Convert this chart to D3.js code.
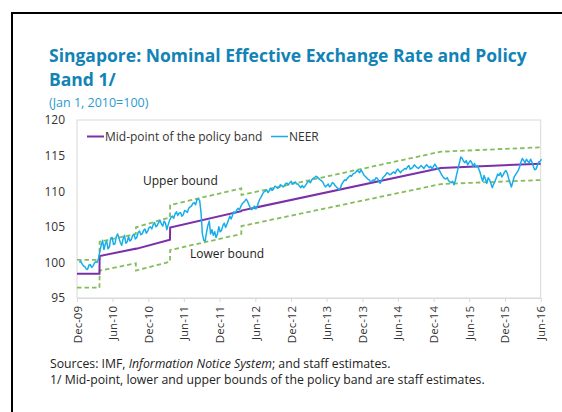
<!DOCTYPE html>
<html>
<head>
<meta charset="utf-8">
<script src="https://cdn.jsdelivr.net/npm/d3@7"></script>
<style>
body { margin: 0; background: #fff; }
svg text { font-family: "Open Sans", "Noto Sans", sans-serif; }
</style>
</head>
<body>
<div id="chart"></div>
<script>
// y axis ticks and x axis labels
const yTicks = [95, 100, 105, 110, 115, 120];
const xTickLabels = ["Dec-09", "Jun-10", "Dec-10", "Jun-11", "Dec-11", "Jun-12", "Dec-12",
    "Jun-13", "Dec-13", "Jun-14", "Dec-14", "Jun-15", "Dec-15", "Jun-16"];
const xTickDates = ["2009-12-01", "2010-06-01", "2010-12-01", "2011-06-01", "2011-12-01", "2012-06-01", "2012-12-01",
    "2013-06-01", "2013-12-01", "2014-06-01", "2014-12-01", "2015-06-01", "2015-12-01", "2016-06-01"];

// policy band breakpoints
const bandDates = ["2009-12-01", "2010-03-26", "2010-03-27", "2010-09-28", "2010-09-29", "2011-03-22",
    "2011-03-23", "2012-03-21", "2012-03-22", "2015-01-07", "2016-06-01"];
const upperBound = [100.35, 100.35, 102.9, 104.0, 104.93, 106.33, 108.06, 110.4, 109.47, 115.55, 116.16];
const lowerBound = [96.45, 96.45, 98.85, 99.87, 98.85, 100.1, 101.74, 103.99, 105.1, 111.0, 111.57];
const midPoint = [98.4, 98.4, 100.9, 101.93, 101.89, 103.2, 104.9, 107.2, 107.28, 113.27, 113.87];

// NEER, one reading a week from the start date
const neerStart = "2009-12-13";
const neerStepDays = 7;
const neer = [
    100.0, 100.2, 99.8, 99.5, 99.4, 99.1, 99.0, 99.6, 99.7, 99.3,
    99.5, 99.9, 100.1, 100.0, 100.5, 101.6, 102.4, 103.1, 101.8, 102.6,
    103.0, 101.9, 102.2, 103.4, 103.5, 102.5, 102.6, 103.6, 104.0, 103.4,
    102.8, 102.4, 103.3, 103.8, 102.7, 102.9, 103.6, 103.0, 103.2, 103.8,
    103.9, 103.3, 103.5, 104.2, 104.4, 103.9, 104.0, 104.5, 104.7, 104.1,
    104.4, 104.9, 105.0, 104.7, 105.3, 105.6, 105.0, 105.2, 105.6, 105.9,
    105.4, 105.1, 105.8, 105.5, 104.6, 105.3, 105.9, 106.3, 106.5, 106.2,
    106.8, 107.1, 106.6, 106.9, 107.0, 106.5, 106.7, 107.3, 107.2, 107.0,
    107.6, 107.8, 107.9, 108.3, 108.4, 108.1, 108.8, 108.9, 108.7, 107.0,
    104.0, 103.1, 103.0, 104.2, 105.2, 105.8, 104.0, 104.6, 103.8, 104.3,
    103.5, 104.0, 105.0, 104.3, 104.5, 105.2, 105.5, 104.9, 105.4, 105.9,
    106.5, 106.1, 106.6, 107.1, 106.9, 107.3, 107.6, 107.4, 107.8, 108.2,
    108.4, 108.6, 108.9, 108.6, 108.1, 107.7, 107.4, 107.6, 107.9, 107.5,
    107.8, 108.4, 108.9, 109.2, 109.6, 109.9, 110.0, 110.2, 109.8, 110.1,
    110.4, 110.1, 110.3, 110.7, 110.6, 110.4, 110.5, 110.9, 110.8, 110.6,
    110.8, 111.1, 111.1, 110.9, 111.2, 111.4, 111.0, 111.2, 111.3, 111.0,
    111.0, 110.7, 110.5, 110.8, 110.5, 110.7, 111.0, 111.3, 111.4, 111.2,
    111.6, 111.8, 111.9, 112.1, 112.0, 111.8, 111.6, 111.5, 111.3, 110.9,
    110.6, 110.8, 111.0, 110.6, 110.8, 111.2, 111.1, 110.8, 110.6, 110.4,
    110.2, 110.5, 111.0, 111.3, 111.6, 111.5, 111.8, 112.0, 112.2, 112.1,
    112.4, 112.5, 112.6, 112.9, 112.8, 112.6, 113.0, 112.7, 112.3, 112.1,
    111.9, 111.7, 111.6, 111.3, 111.4, 111.6, 111.5, 111.9, 111.8, 111.4,
    111.1, 111.5, 111.9, 112.1, 112.3, 112.6, 112.5, 112.3, 112.4, 112.6,
    112.7, 112.5, 112.9, 113.1, 112.8, 112.6, 112.9, 113.0, 113.2, 113.1,
    113.4, 113.6, 113.1, 113.2, 113.4, 113.7, 113.5, 113.3, 113.2, 113.4,
    113.6, 113.4, 113.2, 113.5, 113.7, 113.5, 113.3, 113.5, 113.1, 113.5,
    113.8, 113.5, 113.1, 113.0, 112.7, 112.3, 112.0, 111.8, 111.7, 111.9,
    111.5, 111.3, 111.2, 111.4, 110.9, 111.5, 112.4, 113.2, 114.0, 114.8,
    114.6, 114.2, 114.0, 114.3, 113.7, 114.0, 114.3, 114.0, 113.5, 113.9,
    113.4, 113.6, 113.2, 112.7, 112.0, 111.4, 112.2, 111.7, 111.1, 111.9,
    111.6, 111.1, 110.5, 111.0, 111.4, 111.9, 112.4, 112.2, 112.6, 112.0,
    112.3, 112.7, 112.9, 112.5, 111.8, 111.2, 110.6, 111.3, 112.0, 112.3,
    112.6, 112.9, 113.4, 114.1, 114.6, 114.3, 114.0, 114.5, 114.2, 114.0,
    114.5, 114.1, 113.5, 113.0, 113.1, 113.6, 114.1, 114.2, 114.5
];

const parse = d3.timeParse("%Y-%m-%d");
const W = 562, H = 412;
const plot = {left: 77, right: 540.7, top: 120, bottom: 298};

const svg = d3.select("#chart")
    .append("svg")
    .attr("width", W)
    .attr("height", H);

// outer black frame (runs off the right and bottom edges)
svg.append("rect")
    .attr("x", 12).attr("y", 13)
    .attr("width", 600).attr("height", 450)
    .attr("fill", "none")
    .attr("stroke", "#000")
    .attr("stroke-width", 2);

// titles
svg.append("text")
    .attr("x", 49).attr("y", 62)
    .attr("fill", "#1283B5")
    .style("font-size", "17.5px")
    .style("font-weight", "bold")
    .text("Singapore: Nominal Effective Exchange Rate and Policy");
svg.append("text")
    .attr("x", 49).attr("y", 86)
    .attr("fill", "#1283B5")
    .style("font-size", "17.5px")
    .style("font-weight", "bold")
    .text("Band 1/");
svg.append("text")
    .attr("x", 49).attr("y", 106.5)
    .attr("fill", "#2A9AD0")
    .style("font-size", "12.5px")
    .text("(Jan 1, 2010=100)");

const x = d3.scaleTime()
    .domain([parse("2009-12-01"), parse("2016-06-01")])
    .range([plot.left, plot.right]);

const y = d3.scaleLinear()
    .domain([95, 120])
    .range([plot.bottom, plot.top]);

// plot area frame
svg.append("rect")
    .attr("x", plot.left).attr("y", plot.top)
    .attr("width", plot.right - plot.left)
    .attr("height", plot.bottom - plot.top)
    .attr("fill", "none")
    .attr("stroke", "#D9D9D9")
    .attr("stroke-width", 1);

// y axis labels
const yAxis = svg.append("g")
    .attr("transform", `translate(${plot.left},0)`)
    .call(d3.axisLeft(y).tickValues(yTicks).tickSize(0).tickPadding(12));
yAxis.select(".domain").remove();
yAxis.selectAll("text")
    .attr("fill", "#333")
    .style("font-size", "12px")
    .style("font-family", "\"Open Sans\", sans-serif");

// x axis
const xAxis = svg.append("g")
    .attr("transform", `translate(0,${plot.bottom})`)
    .call(d3.axisBottom(x)
        .tickValues(xTickDates.map(parse))
        .tickFormat((d, i) => xTickLabels[i])
        .tickSize(4)
        .tickSizeOuter(0));
xAxis.select(".domain").attr("stroke", "#D9D9D9");
xAxis.selectAll(".tick line").attr("stroke", "#D9D9D9");
xAxis.selectAll("text")
    .attr("fill", "#333")
    .style("font-size", "11.5px")
    .style("font-family", "\"Open Sans\", sans-serif")
    .attr("text-anchor", "end")
    .attr("transform", "rotate(-90)")
    .attr("x", -8)
    .attr("y", 0)
    .attr("dy", "0.35em");

const bandPts = bandDates.map((d, i) => ({
    date: parse(d), upper: upperBound[i], lower: lowerBound[i], mid: midPoint[i]
}));

const neerPts = neer.map((v, i) => ({
    date: d3.timeDay.offset(parse(neerStart), i * neerStepDays), value: v
}));

const bandLine = key => d3.line()
    .x(d => x(d.date))
    .y(d => y(d[key]));

["upper", "lower"].forEach(key => {
    svg.append("path")
        .datum(bandPts)
        .attr("fill", "none")
        .attr("stroke", "#86BC5A")
        .attr("stroke-width", 1.8)
        .attr("stroke-dasharray", "4.5,3")
        .attr("d", bandLine(key));
});

svg.append("path")
    .datum(bandPts)
    .attr("fill", "none")
    .attr("stroke", "#7B2FA8")
    .attr("stroke-width", 2)
    .attr("d", bandLine("mid"));

svg.append("path")
    .datum(neerPts)
    .attr("fill", "none")
    .attr("stroke", "#16AEEA")
    .attr("stroke-width", 1.5)
    .attr("stroke-linejoin", "round")
    .attr("d", d3.line().x(d => x(d.date)).y(d => y(d.value)));

// legend
const legend = [
    {label: "Mid-point of the policy band", color: "#7B2FA8", x: 87, w: 2},
    {label: "NEER", color: "#16AEEA", x: 271, w: 1.5}
];
legend.forEach(l => {
    svg.append("line")
        .attr("x1", l.x).attr("x2", l.x + 17)
        .attr("y1", 136.5).attr("y2", 136.5)
        .attr("stroke", l.color)
        .attr("stroke-width", l.w);
    svg.append("text")
        .attr("x", l.x + 18).attr("y", 136.5)
        .attr("dy", "0.35em")
        .attr("fill", "#333")
        .style("font-size", "12px")
        .text(l.label);
});

// band annotations
svg.append("text")
    .attr("x", 143).attr("y", 181)
    .attr("dy", "0.35em")
    .attr("fill", "#222")
    .style("font-size", "12px")
    .text("Upper bound");
svg.append("text")
    .attr("x", 190).attr("y", 254)
    .attr("dy", "0.35em")
    .attr("fill", "#222")
    .style("font-size", "12px")
    .text("Lower bound");

// footnotes
const foot = svg.append("text")
    .attr("x", 50).attr("y", 367.5)
    .attr("fill", "#222")
    .style("font-size", "12.25px");
foot.append("tspan").text("Sources: IMF, ");
foot.append("tspan").style("font-style", "italic").text("Information Notice System");
foot.append("tspan").text("; and staff estimates.");
svg.append("text")
    .attr("x", 50).attr("y", 383.5)
    .attr("fill", "#222")
    .style("font-size", "12.25px")
    .text("1/ Mid-point, lower and upper bounds of the policy band are staff estimates.");
</script>
</body>
</html>
